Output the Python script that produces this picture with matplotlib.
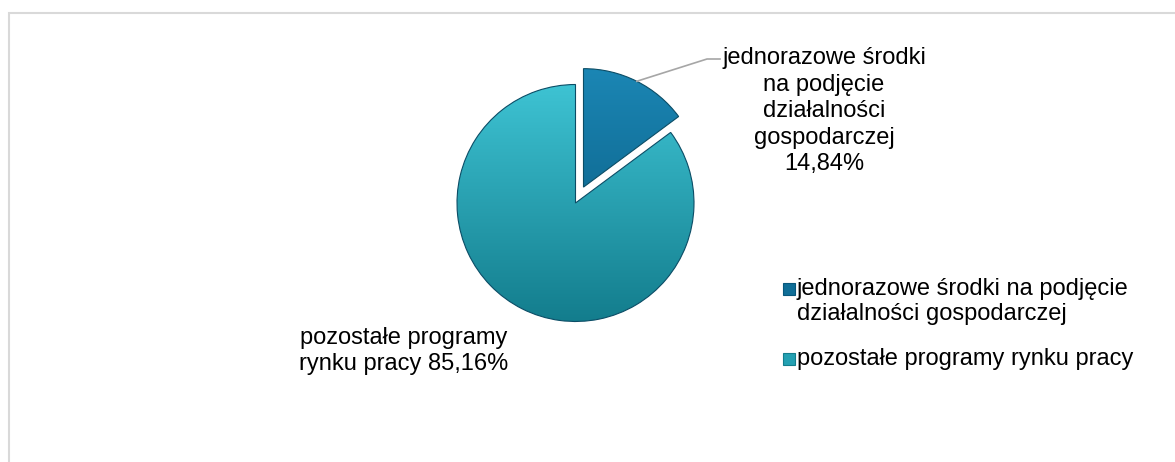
import numpy as np
import matplotlib.pyplot as plt
from matplotlib.colors import to_rgb
from matplotlib.patches import Rectangle

plt.rcParams['font.family'] = ['Liberation Sans', 'DejaVu Sans']

# dane
kategorie = ['jednorazowe środki na podjęcie\ndziałalności gospodarczej',
             'pozostałe programy rynku pracy']
etykiety = ['jednorazowe środki\nna podjęcie\ndziałalności\ngospodarczej\n14,84%',
            'pozostałe programy\nrynku pracy 85,16%']
udzialy = [14.84, 85.16]

W, H = 1175, 462
fig = plt.figure(figsize=(W / 100, H / 100), dpi=100)
ax = fig.add_axes([0, 0, 1, 1])

# srodek i promien kola w pikselach (y liczone od dolu)
cx, cy, r = 575.5, H - 203, 118.5
kolory = ['#0f6e97', '#23a0b2']
kolory_gora = ['#1b86b4', '#3ec3d3']
kolory_dol = ['#07577c', '#137d8d']

wedges, _ = ax.pie(udzialy, startangle=90, counterclock=False,
                   explode=[0.15 * r, 0], center=(cx, cy), radius=r,
                   colors=kolory,
                   wedgeprops=dict(edgecolor='#0b4d66', linewidth=0.8))

# gradient w kazdym wycinku
for w, c1, c2 in zip(wedges, kolory_gora, kolory_dol):
    a = np.array(to_rgb(c1))
    b = np.array(to_rgb(c2))
    t = np.linspace(0, 1, 256)[:, None]
    grad = (a * (1 - t) + b * t)[:, None, :]
    ox, oy = w.center
    im = ax.imshow(grad, extent=[ox - r, ox + r, oy - r, oy + r],
                   origin='upper', aspect='auto', zorder=w.get_zorder())
    im.set_clip_path(w)
    w.set_facecolor('none')
    w.set_zorder(w.get_zorder() + 0.1)

ax.set_xlim(0, W)
ax.set_ylim(0, H)
ax.set_aspect('equal')
ax.axis('off')

# linia odniesienia do pierwszej etykiety
w0 = wedges[0]
kat = np.deg2rad((w0.theta1 + w0.theta2) / 2)
x0 = w0.center[0] + r * np.cos(kat)
y0 = w0.center[1] + r * np.sin(kat)
ax.plot([x0, 707, 720], [y0, H - 59, H - 59], color='#a6a6a6', lw=1.2)

# va='baseline' -> linia bazowa ostatniego wiersza
rozstaw = 1.26
ax.text(824, H - 170, etykiety[0], ha='center', va='baseline',
        fontsize=17, linespacing=rozstaw, color='#000000')
ax.text(404, H - 370, etykiety[1], ha='center', va='baseline',
        fontsize=17, linespacing=rozstaw, color='#000000')

# legenda
leg_y = [H - 289, H - 359]
leg_baza = [H - 320, H - 365]
for kol, kol_d, kat_txt, y, yb in zip(kolory, kolory_dol, kategorie, leg_y, leg_baza):
    ax.add_patch(Rectangle((783, y - 6), 12, 12, facecolor=kol,
                           edgecolor=kol_d, lw=0.8))
    ax.text(797, yb, kat_txt, ha='left', va='baseline', fontsize=17,
            linespacing=1.2, color='#000000')

# ramka wykresu
fig.patches.append(Rectangle((8.5 / W, -0.1), 1.2, 1.1 - 13.5 / H,
                             transform=fig.transFigure, fill=False,
                             edgecolor='#d9d9d9', lw=1.5))

fig.savefig('out.png', dpi=100)
